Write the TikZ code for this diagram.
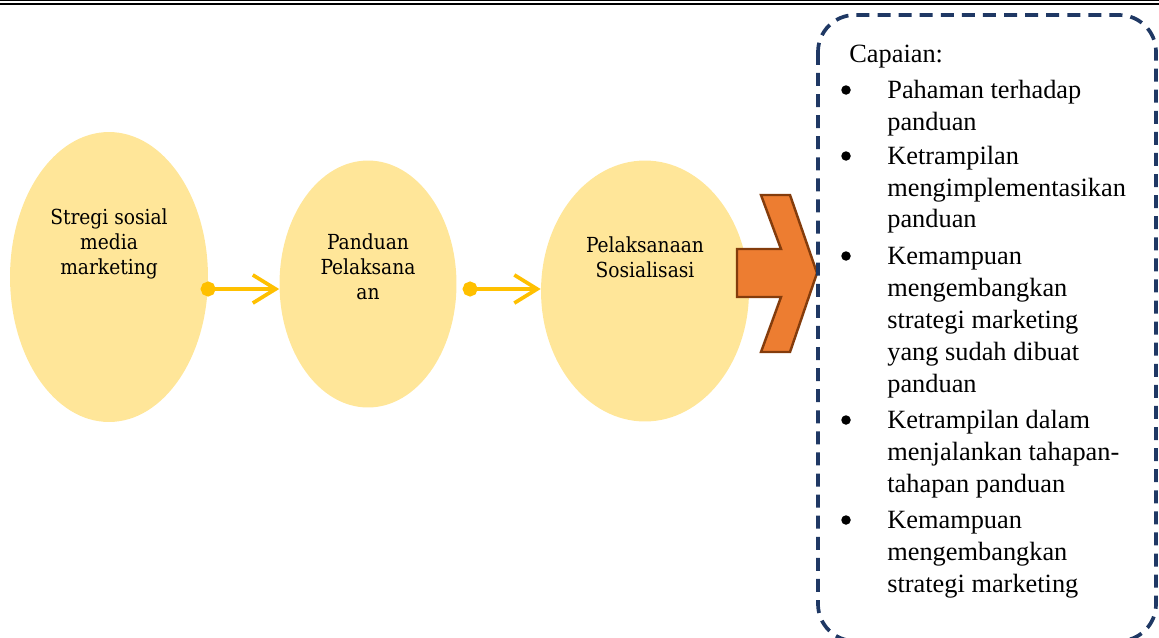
\documentclass[tikz,border=0pt]{standalone}
\usepackage{fontspec}
\setmainfont{Liberation Serif}
\newfontfamily\blobfont{DejaVu Serif Condensed}
\usepackage{tikz}
\usetikzlibrary{shapes.geometric, arrows.meta, positioning}
\definecolor{blobfill}{RGB}{255, 230, 153}
\definecolor{gold}{RGB}{255, 192, 0}
\definecolor{orangefill}{RGB}{237, 125, 49}
\definecolor{orangeline}{RGB}{132, 60, 12}
\definecolor{navy}{RGB}{31, 56, 100}

\begin{document}
\begin{tikzpicture}[x=0.02cm, y=-0.02cm,
    blob/.style={ellipse, fill=blobfill, inner sep=0pt},
    blobtext/.style={align=center, font=\blobfont\fontsize{11.8}{14.2}\selectfont},
    flow/.style={gold, line width=2.1pt, {Circle[length=8.5pt]}-{Straight Barb[length=13pt,width=16pt]}, shorten <=-4.2pt},
    listtext/.style={anchor=base west, inner sep=0pt, font=\fontsize{15}{18}\selectfont}]
            \useasboundingbox (0,0) rectangle (1159,637);
            \draw[line width=0.6pt] (0,0.8) -- (1159,0.8);
            \draw[line width=1.3pt] (0,4.2) -- (1159,4.2);
            % stages
            \node[blob, minimum width=3.96cm, minimum height=5.8cm] (strategi) at (109,277) {};
            \node[blob, minimum width=3.54cm, minimum height=4.94cm] (panduan) at (368,284) {};
            \node[blob, minimum width=4.16cm, minimum height=5.22cm] (sosialisasi) at (645,291) {};
            \node[blobtext] (tstrategi) at (109,244) {Stregi sosial\\media\\marketing};
            \node[blobtext] (tpanduan) at (368,267) {Panduan\\Pelaksana\\an};
            \node[blobtext] (tsosialisasi) at (645,257) {Pelaksanaan\\Sosialisasi};
            \coordinate (d1) at (208,289);
            \coordinate (d2) at (470,289);
            \draw[flow] (d1) -- (panduan.west |- d1);
            \draw[flow] (d2) -- (sosialisasi.west |- d2);
            % big arrow into the outcome box
            \draw[fill=orangefill, draw=orangeline, line width=1.4pt, line join=miter]
              (737,249) -- (781,249) -- (761,195) -- (790,195) -- (817,273) -- (790,352)
              -- (761,352) -- (781,297) -- (737,297) -- cycle;
            \draw[navy, line width=2.1pt, dash pattern=on 7.4pt off 4.6pt, rounded corners=21pt]
              (818,15) rectangle (1156,641);
            \node[listtext] (capaian) at (849,62) {Capaian:};
            \foreach \y in {98,164,264,428,528}
              \fill (846,\y-8) circle (2.7pt);
            \foreach \y/\t in {98/Pahaman terhadap, 130/panduan, 164/Ketrampilan,
                196/mengimplementasikan, 227/panduan, 264/Kemampuan, 296/mengembangkan,
                328/strategi marketing, 360/yang sudah dibuat, 392/panduan,
                428/Ketrampilan dalam, 460/menjalankan tahapan-, 492/tahapan panduan,
                528/Kemampuan, 560/mengembangkan, 592/strategi marketing}
              \node[listtext] (l\y) at (887,\y) {\t};
          \end{tikzpicture}
\end{document}
